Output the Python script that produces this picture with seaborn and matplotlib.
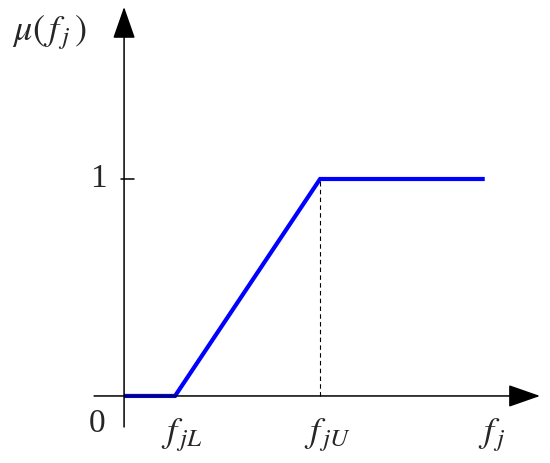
import matplotlib
matplotlib.use("Agg")
import matplotlib.pyplot as plt
import pandas as pd
import seaborn as sns

sns.set_theme(style="white")
plt.rcParams["mathtext.fontset"] = "stix"
plt.rcParams["font.family"] = ["Liberation Serif", "DejaVu Serif"]

# membership function: mu(f_j) over f_j
f_values = [0.0, 0.26, 1.0, 1.84]
mu_values = [0.0, 0.0, 1.0, 1.0]
f_jL = 0.26
f_jU = 1.0
f_end = 1.84
tick_labels = [r"$f_{\,jL}$", r"$f_{\,jU}$", r"$f_{\,j}$"]

df = pd.DataFrame({"f": f_values, "mu": mu_values})

fig = plt.figure(figsize=(5.5, 4.63), dpi=100)
ax = fig.add_axes([0, 0, 1, 1])
ax.set_xlim(-0.633, 2.173)
ax.set_ylim(-0.309, 1.825)
ax.axis("off")

sns.lineplot(data=df, x="f", y="mu", color="#0000ff", linewidth=3.0, ax=ax,
             solid_joinstyle="miter", solid_capstyle="butt")

# dashed drop line at f_jU
ax.plot([f_jU, f_jU], [0, 1], color="black", linewidth=0.8, linestyle=(0, (4, 3)))

# axes with arrow heads
arrow = dict(arrowstyle="-|>,head_length=20,head_width=7", color="black",
             linewidth=1.1, shrinkA=0, shrinkB=0, mutation_scale=1)
ax.annotate("", xy=(2.122, 0), xytext=(-0.153, 0), arrowprops=arrow)
ax.annotate("", xy=(0, 1.793), xytext=(0, -0.143), arrowprops=arrow)

# tick at 1
ax.plot([-0.015, 0.051], [1, 1], color="black", linewidth=1.1)

ax.text(-0.138, -0.129, "0", fontsize=24, ha="center", va="center")
ax.text(-0.133, 1.0, "1", fontsize=24, ha="center", va="center")
for xpos, lab in zip([f_jL, f_jU, f_end], tick_labels):
    ax.text(xpos + 0.035, -0.18, lab, fontsize=26, ha="center", va="center")
ax.text(-0.378, 1.677, r"$\mu(\,f_{\,j}\,)$", fontsize=26, ha="center", va="center")

fig.savefig("out.png", dpi=100)
